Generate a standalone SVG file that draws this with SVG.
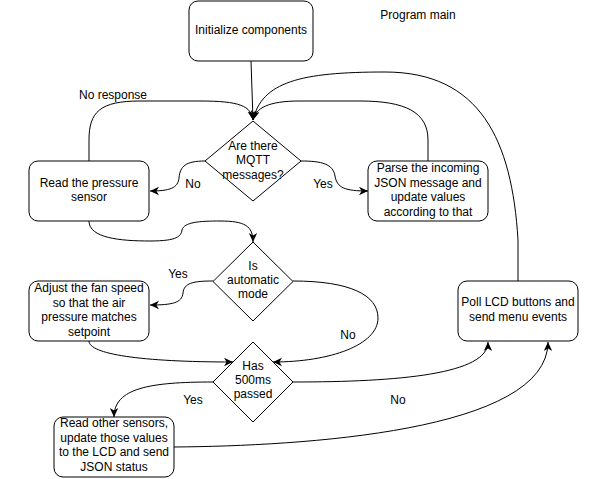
<svg xmlns="http://www.w3.org/2000/svg" width="602" height="479" viewBox="0 0 602 479">
<defs>
<marker id="arr" markerUnits="userSpaceOnUse" markerWidth="10" markerHeight="10" refX="9" refY="5" orient="auto">
<path d="M0,0.8 L9,5 L0,9.2 L2.6,5 z" fill="#000"/>
</marker>
<style>
text{font-family:"Liberation Sans",Arial,Helvetica,sans-serif;font-size:12px;fill:#000;text-anchor:middle}
.n{fill:#fff;stroke:#000;stroke-width:1}
.e{fill:none;stroke:#000;stroke-width:1}
.a{marker-end:url(#arr)}
</style>
</defs>
<rect width="602" height="479" fill="#fff"/>
<g id="connectors">
<path class="e a" d="M251 61 L253 120"/>
<path class="e a" d="M89 161 L89 140 C89 112 100 101 140 101 L200 101 C240 101 251 106 253 120"/>
<path class="e a" d="M428 161 L428 140 C428 112 405 101 360 101 L300 101 C268 101 256 108 253 120"/>
<path class="e a" d="M518 281 L518 240 C512 140 480 72 385 72 C300 72 262 82 253 120"/>
<path class="e a" d="M205 161 C186 161 180 166 179 178 C178 188 170 191 150 191"/>
<path class="e a" d="M301 161 C322 161 333 164 335 176 C337 188 345 191 368 191"/>
<path class="e a" d="M89 221 C89 238 120 241 150 241 C178 241 181 236 182 230 C184 222 200 221 220 221 C245 221 253 226 253 242"/>
<path class="e a" d="M213 281 C193 281 184 283 183 293 C182 303 172 305 150 305"/>
<path class="e a" d="M293 281 C350 281 378 295 378 318 C378 345 330 362 273 362"/>
<path class="e a" d="M89 341 C89 354 140 362 233 362"/>
<path class="e a" d="M213 382 C150 382 114 388 114 417"/>
<path class="e a" d="M293 382 C400 382 488 374 488 342"/>
<path class="e a" d="M174 447 C300 446 548 432 548 342"/>
</g>
<g id="init"><rect class="n" x="189" y="1" width="124" height="60" rx="9"/><text x="251" y="34">Initialize components</text></g>
<g id="mqtt"><polygon class="n" points="253,121 301,161 253,201 205,161"/><text x="253" y="150">Are there</text><text x="253" y="164.4">MQTT</text><text x="253" y="178.8">messages?</text></g>
<g id="readpressure"><rect class="n" x="29" y="161" width="120" height="60" rx="9"/><text x="89" y="186.5">Read the pressure</text><text x="89" y="200.9">sensor</text></g>
<g id="parse"><rect class="n" x="368" y="161" width="120" height="60" rx="9"/><text x="428" y="172.4">Parse the incoming</text><text x="428" y="186.8">JSON message and</text><text x="428" y="201.2">update values</text><text x="428" y="215.6">according to that</text></g>
<g id="auto"><polygon class="n" points="253,242 293,281.5 253,321 213,281.5"/><text x="253" y="269.6">Is</text><text x="253" y="284">automatic</text><text x="253" y="298.4">mode</text></g>
<g id="adjust"><rect class="n" x="29" y="281" width="120" height="60" rx="9"/><text x="89" y="292.4">Adjust the fan speed</text><text x="89" y="306.8">so that the air</text><text x="89" y="321.2">pressure matches</text><text x="89" y="335.6">setpoint</text></g>
<g id="poll"><rect class="n" x="458" y="281" width="120" height="60" rx="9"/><text x="518" y="306.3">Poll LCD buttons and</text><text x="518" y="320.7">send menu events</text></g>
<g id="has500"><polygon class="n" points="253,342 293,382 253,422 213,382"/><text x="253" y="369.6">Has</text><text x="253" y="384">500ms</text><text x="253" y="398.4">passed</text></g>
<g id="readother"><rect class="n" x="54" y="417" width="120" height="60" rx="9"/><text x="114" y="427.4">Read other sensors,</text><text x="114" y="441.8">update those values</text><text x="114" y="456.2">to the LCD and send</text><text x="114" y="470.6">JSON status</text></g>
<g id="labels">
<text x="418" y="19">Program main</text>
<text x="113" y="99">No response</text>
<text x="193" y="188">No</text>
<text x="323" y="188">Yes</text>
<text x="178" y="278">Yes</text>
<text x="348" y="339">No</text>
<text x="193" y="404">Yes</text>
<text x="398" y="404">No</text>
</g>
</svg>
